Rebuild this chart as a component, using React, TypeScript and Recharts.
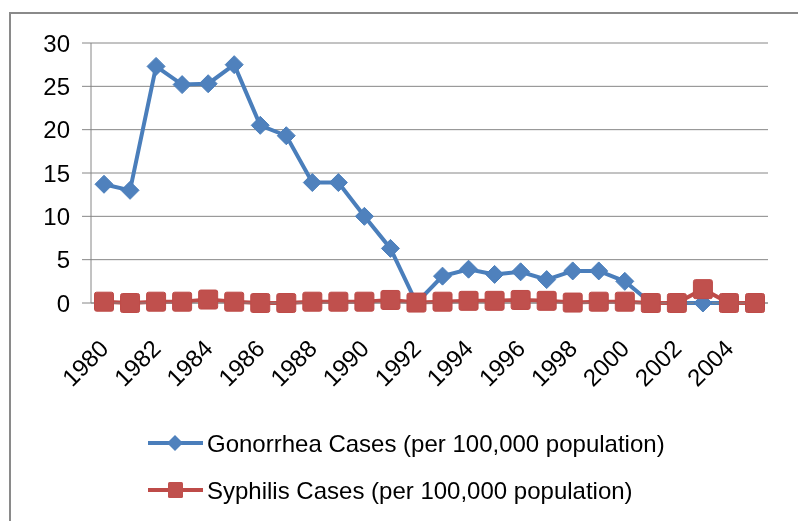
import React from 'react';
import { LineChart, Line, XAxis, YAxis, CartesianGrid, Legend } from 'recharts';

const years = ['1980', '1981', '1982', '1983', '1984', '1985', '1986', '1987', '1988', '1989', '1990', '1991', '1992', '1993', '1994', '1995', '1996', '1997', '1998', '1999', '2000', '2001', '2002', '2003', '2004', '2005'];
const gonorrhea = [13.7, 13.0, 27.3, 25.2, 25.3, 27.5, 20.5, 19.3, 13.9, 13.9, 10.0, 6.3, 0, 3.1, 3.9, 3.3, 3.6, 2.7, 3.7, 3.7, 2.5, 0, 0, 0, 0, 0];
const syphilis = [0.15, 0, 0.15, 0.15, 0.4, 0.15, 0, 0, 0.15, 0.15, 0.15, 0.35, 0.05, 0.15, 0.25, 0.25, 0.35, 0.25, 0.05, 0.15, 0.15, 0, 0, 1.6, 0, 0];
const yTicks = [0, 5, 10, 15, 20, 25, 30];
const boundaryTicks = [0, 1, 2, 3, 4, 5, 6, 7, 8, 9, 10, 11, 12, 13, 14, 15, 16, 17, 18, 19, 20, 21, 22, 23, 24, 25, 26];
const seriesNames = ['Gonorrhea Cases (per 100,000 population)', 'Syphilis Cases (per 100,000 population)'];

const BLUE_LINE = '#4A7EBB';
const BLUE_FILL = '#4F81BD';
const RED_LINE = '#BE4B48';
const RED_FILL = '#C0504D';
const GRID = '#868686';
const FONT = '"Liberation Sans", Arial, sans-serif';

const data = years.map((year, i) => ({
  year,
  gonorrhea: gonorrhea[i],
  syphilis: syphilis[i],
}));

const DiamondDot = (props: any) => {
  const { cx, cy, index } = props;
  if (cx == null || cy == null) return <g key={'d' + index} />;
  const r = 9;
  return (
    <polygon
      key={'d' + index}
      points={`${cx},${cy - r} ${cx + r},${cy} ${cx},${cy + r} ${cx - r},${cy}`}
      fill={BLUE_FILL}
      stroke={BLUE_LINE}
      strokeWidth={1}
    />
  );
};

const SquareDot = (props: any) => {
  const { cx, cy, index } = props;
  if (cx == null || cy == null) return <g key={'s' + index} />;
  const s = 19;
  return (
    <rect
      key={'s' + index}
      x={cx - s / 2}
      y={cy - s / 2}
      width={s}
      height={s}
      rx={2}
      fill={RED_FILL}
      stroke={RED_LINE}
      strokeWidth={1}
    />
  );
};

const YearTick = (props: any) => {
  const { x, y, payload } = props;
  const ex = x + 6;
  const ey = y + 47;
  return (
    <text
      x={ex}
      y={ey}
      transform={`rotate(-45, ${ex}, ${ey})`}
      textAnchor="end"
      fontSize={24}
      fontFamily={FONT}
      fill="#000"
    >
      {payload.value}
    </text>
  );
};

const renderLegend = () => {
  const rows = [
    { name: seriesNames[0], line: BLUE_LINE, fill: BLUE_FILL, shape: 'diamond', y: 20 },
    { name: seriesNames[1], line: RED_LINE, fill: RED_FILL, shape: 'square', y: 67 },
  ];
  return (
    <svg width={782} height={90} style={{ display: 'block' }}>
      {rows.map((r) => (
        <g key={r.name}>
          <line x1={140} x2={195} y1={r.y} y2={r.y} stroke={r.line} strokeWidth={4} />
          {r.shape === 'diamond' ? (
            <polygon
              points={`167,${r.y - 8} 175,${r.y} 167,${r.y + 8} 159,${r.y}`}
              fill={r.fill}
            />
          ) : (
            <rect x={160} y={r.y - 8} width={15} height={16} rx={1.5} fill={r.fill} />
          )}
          <text x={199} y={r.y} dominantBaseline="central" fontSize={24} fontFamily={FONT} fill="#000">
            {r.name}
          </text>
        </g>
      ))}
    </svg>
  );
};

export default function App() {
  return (
    <div style={{ position: 'relative', width: 782, height: 505, overflow: 'hidden', background: '#fff' }}>
      <div
        style={{
          position: 'fixed',
          left: 9,
          top: 12,
          width: 1000,
          height: 1000,
          border: '2px solid #8a8a8a',
          boxSizing: 'border-box',
        }}
      />
      <LineChart
        width={782}
        height={505}
        data={data}
        margin={{ top: 35, right: 22, left: 0, bottom: 0 }}
        style={{ fontFamily: FONT }}
      >
        <CartesianGrid horizontal={true} vertical={false} stroke={GRID} strokeWidth={1} />
        <XAxis
          xAxisId="grid"
          type="number"
          domain={[0, 26]}
          ticks={boundaryTicks}
          tick={false}
          axisLine={false}
          tickLine={{ stroke: GRID }}
          tickSize={5}
          height={0}
          allowDataOverflow
        />
        <XAxis
          dataKey="year"
          interval={1}
          padding={{ left: 13, right: 13 }}
          tickLine={false}
          axisLine={{ stroke: GRID, strokeWidth: 1 }}
          tickSize={0}
          tickMargin={0}
          tick={<YearTick />}
          height={120}
        />
        <YAxis
          domain={[0, 30]}
          ticks={yTicks}
          interval={0}
          width={83}
          tickSize={9}
          tickMargin={12}
          axisLine={{ stroke: GRID }}
          tickLine={{ stroke: GRID }}
          tick={{ fill: '#000', fontSize: 24, fontFamily: FONT }}
        />
        <Line
          dataKey="gonorrhea"
          name={seriesNames[0]}
          stroke={BLUE_LINE}
          strokeWidth={4}
          dot={DiamondDot}
          activeDot={false}
          isAnimationActive={false}
        />
        <Line
          dataKey="syphilis"
          name={seriesNames[1]}
          stroke={RED_LINE}
          strokeWidth={4}
          dot={SquareDot}
          activeDot={false}
          isAnimationActive={false}
        />
        <Legend verticalAlign="bottom" wrapperStyle={{ left: 0, width: 782 }} content={renderLegend} />
      </LineChart>
    </div>
  );
}
